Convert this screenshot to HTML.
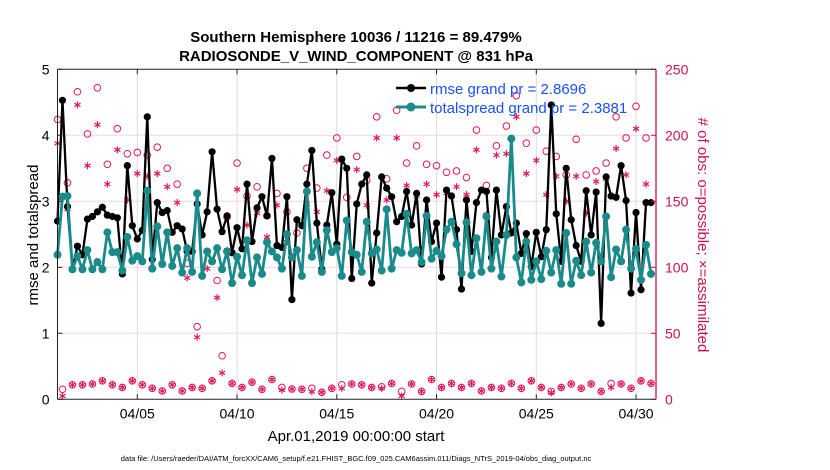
<!DOCTYPE html>
<html><head><meta charset="utf-8"><style>
body{margin:0;background:#fff;}
svg{display:block;font-family:"Liberation Sans",sans-serif;}
</style></head><body>
<svg id="chart" width="830" height="470" viewBox="0 0 830 470">
<rect width="830" height="470" fill="#fff"/>
<g id="grid"></g><g id="counts"></g><g id="lines"></g><g id="axes"></g>
<text x="356" y="42" text-anchor="middle" font-size="15" font-weight="bold">Southern Hemisphere 10036 / 11216 = 89.479%</text>
<text x="356" y="61" text-anchor="middle" font-size="15" font-weight="bold">RADIOSONDE_V_WIND_COMPONENT @ 831 hPa</text>
<text transform="translate(38,235) rotate(-90)" text-anchor="middle" font-size="15">rmse and totalspread</text>
<text transform="translate(698,235) rotate(90)" text-anchor="middle" font-size="15" fill="#d0104c"># of obs: o=possible; ×=assimilated</text>
<text x="356" y="441" text-anchor="middle" font-size="15">Apr.01,2019 00:00:00 start</text>
<text x="356" y="461" text-anchor="middle" font-size="7.5">data file: /Users/raeder/DAI/ATM_forcXX/CAM6_setup/f.e21.FHIST_BGC.f09_025.CAM6assim.011/Diags_NTrS_2019-04/obs_diag_output.nc</text>
<g>
<line x1="396" y1="88" x2="426" y2="88" stroke="#000" stroke-width="2.5"/><circle cx="411" cy="88" r="4" fill="#000"/>
<text x="430" y="94" font-size="15" fill="#1a4fff">rmse grand pr = 2.8696</text>
<line x1="396" y1="107" x2="426" y2="107" stroke="#1a8a8a" stroke-width="3"/><circle cx="411" cy="107" r="4.5" fill="#1a8a8a"/>
<text x="430" y="113" font-size="15" fill="#1a4fff">totalspread grand pr = 2.3881</text>
</g>
</svg>
<script>
const rmse=[2.70,4.53,2.92,1.97,2.32,2.19,2.73,2.77,2.84,2.91,2.79,2.77,2.75,1.90,3.54,2.63,2.43,2.56,4.28,2.12,2.98,2.83,2.86,2.53,2.63,2.58,2.24,2.24,2.96,2.49,
2.84,3.75,2.88,2.54,2.78,2.22,2.60,2.28,3.26,2.39,2.90,3.07,2.78,3.65,2.33,2.30,3.07,1.51,2.72,2.63,3.26,3.77,2.67,1.97,2.64,3.13,2.35,3.64,3.50,1.83,
2.96,3.26,3.40,1.76,2.52,3.37,3.20,3.07,2.69,2.77,3.15,2.64,3.12,2.05,3.02,2.39,2.67,1.85,3.17,3.08,2.57,1.67,3.02,2.24,2.98,3.17,3.15,2.15,3.17,2.49,
2.92,2.52,2.67,2.21,2.51,2.01,2.53,2.16,2.57,4.46,2.81,2.09,3.50,2.72,2.33,2.09,3.16,2.49,3.14,1.15,3.37,3.08,3.06,3.54,3.01,1.61,2.83,1.66,2.98,2.98];
const spread=[2.19,3.07,3.08,1.97,2.17,1.97,2.26,1.97,2.08,1.97,2.53,2.23,2.23,1.95,2.46,2.10,2.17,2.09,3.16,1.98,2.62,2.05,2.53,2.02,2.29,1.92,2.29,1.93,3.12,1.87,
2.24,2.09,2.29,1.97,2.24,1.76,2.16,1.88,2.41,1.76,2.15,1.90,2.38,2.24,2.15,1.98,2.50,2.15,2.26,1.87,3.15,2.16,2.38,1.93,2.56,2.23,2.29,1.87,2.71,2.23,
2.19,1.93,2.69,2.21,2.27,1.95,2.88,1.98,2.26,2.22,2.81,2.21,2.26,2.08,2.78,2.13,2.25,2.17,2.57,2.69,2.35,1.91,2.68,1.88,2.44,1.93,2.77,1.98,2.39,1.86,
2.49,3.95,2.15,1.77,2.39,1.81,2.09,1.82,2.25,1.92,2.26,1.75,2.52,1.75,2.10,1.88,2.39,1.92,2.37,2.09,2.77,1.85,2.27,2.09,2.57,1.98,2.28,1.81,2.34,1.90];
const possible=[212,7.6,164,11,233,11,201,11.6,236,14,178,11,205,9,186,14,187,11,185,8.3,191,6.3,175,11,163,6.3,103,9,55,8.3,112,14,90,33,138,12,179,9,154,13,161,7.6,139,15,156,9,142,7.8,126,7.6,175,8.3,160,5.3,185,8.3,198,11,153,11.6,184,11,166,9,214,9.5,167,12,219,6,179,11.6,192,6,178,15,177,9,172,12,173,9,168,12,204,6.3,162,9,192,8.3,207,12,230,8.3,194,14,204,9,188,6,184,9,170,11.6,197,8.3,170,11.6,173,6,179,12,214,11.6,198,8.3,222,14,198,12];
const assimilated=[194,2.5,144,11,223,11,177,11.6,208,14,163,11,189,9,151,14,171,11,169,8.3,171,6.3,161,11,149,6.3,92,9,47,8.3,99,14,77,20,113,12,159,9,132,13,141,7.6,123,15,147,7,119,7.8,113,7.6,148,5.8,142,5.3,158,8.3,181,8.3,135,11.6,174,11,147,9,198,8.3,151,12,198,2.5,162,11.6,154,6,163,15,155,9,156,12,161,9,155,12,189,6.3,140,9,185,8.3,186,12,214,8.3,171,14,181,9,155,5,169,9,150,11.6,169,8.3,141,11.6,165,6,167,9,190,11.6,170,8.3,205,14,163,12];
const xTickDays=[4,9,14,19,24,29];
const xTickLabels=["04/05","04/10","04/15","04/20","04/25","04/30"];
const yTicks=[0,1,2,3,4,5];
const y2Ticks=[0,50,100,150,200,250];
const stepDays=0.25;

const L=57.5,R=656,T=69.3,B=399.3;
const X=d=>L+(d/30)*(R-L);
const Y=v=>B-(v/5)*(B-T);
const Y2=v=>B-(v/250)*(B-T);
const NS="http://www.w3.org/2000/svg";
function mk(tag,attrs,parent){const e=document.createElementNS(NS,tag);for(const k in attrs)e.setAttribute(k,attrs[k]);parent.appendChild(e);return e;}
const grid=document.getElementById('grid'),axes=document.getElementById('axes'),lines=document.getElementById('lines'),counts=document.getElementById('counts');

xTickDays.forEach((d,i)=>{
  const g=mk('line',{x1:X(d),x2:X(d),y1:T,y2:B,stroke:'#dcdcdc','stroke-width':1},grid);
  
  
  const t=mk('text',{x:X(d),y:B+19,'text-anchor':'middle','font-size':14},axes);
  t.textContent=xTickLabels[i];
  
  
  mk('line',{x1:X(d),x2:X(d),y1:B,y2:B-5,stroke:'#222'},axes);
  mk('line',{x1:X(d),x2:X(d),y1:T,y2:T+5,stroke:'#222'},axes);
});
yTicks.forEach(v=>{
  if(v>0&&v<5){const g=mk('line',{x1:L,x2:R,y1:Y(v),y2:Y(v),stroke:'#f0d6e0','stroke-width':1},grid);
  
  }
  const t=mk('text',{x:L-8,y:Y(v)+5,'text-anchor':'end','font-size':14},axes);
  t.textContent=v;
  
  
  mk('line',{x1:L,x2:L+5,y1:Y(v),y2:Y(v),stroke:'#222'},axes);
});
y2Ticks.forEach(v=>{
  const t=mk('text',{x:R+9,y:Y2(v)+5,'font-size':14,fill:'#d0104c'},axes);
  t.textContent=v;
  
  
  mk('line',{x1:R-5,x2:R,y1:Y2(v),y2:Y2(v),stroke:'#d0104c'},axes);
});
mk('line',{x1:L,x2:R,y1:T,y2:T,stroke:'#222'},axes);
mk('line',{x1:L,x2:R,y1:B,y2:B,stroke:'#222'},axes);
mk('line',{x1:L,x2:L,y1:T,y2:B,stroke:'#222'},axes);
mk('line',{x1:R,x2:R,y1:T,y2:B,stroke:'#d0104c','stroke-width':1.3},axes);

possible.forEach((v,i)=>{
  const c=mk('circle',{cx:X(i*stepDays),cy:Y2(v),r:3.3,fill:'none',stroke:'#e0185a','stroke-width':1},counts);
  
  
});
assimilated.forEach((v,i)=>{
  const cx=X(i*stepDays),cy=Y2(v),s=3.5;
  const g=mk('g',{stroke:'#e0185a','stroke-width':1.2},counts);
  
  
  mk('line',{x1:cx,x2:cx,y1:cy-s,y2:cy+s},g);
  mk('line',{x1:cx-s*0.87,x2:cx+s*0.87,y1:cy-s*0.5,y2:cy+s*0.5},g);
  mk('line',{x1:cx-s*0.87,x2:cx+s*0.87,y1:cy+s*0.5,y2:cy-s*0.5},g);
});

function series(arr,color,w,r,name){
  const p=mk('polyline',{points:arr.map((v,i)=>X(i*stepDays)+','+Y(v)).join(' '),fill:'none',stroke:color,'stroke-width':w,'stroke-linejoin':'round'},lines);
  
  
  arr.forEach((v,i)=>{
    const c=mk('circle',{cx:X(i*stepDays),cy:Y(v),r:r,fill:color},lines);
    
    
  });
}
series(rmse,'#000',2.3,3.6,'rmse');
series(spread,'#1a8a8a',2.8,4,'totalspread');
</script>
</body></html>
